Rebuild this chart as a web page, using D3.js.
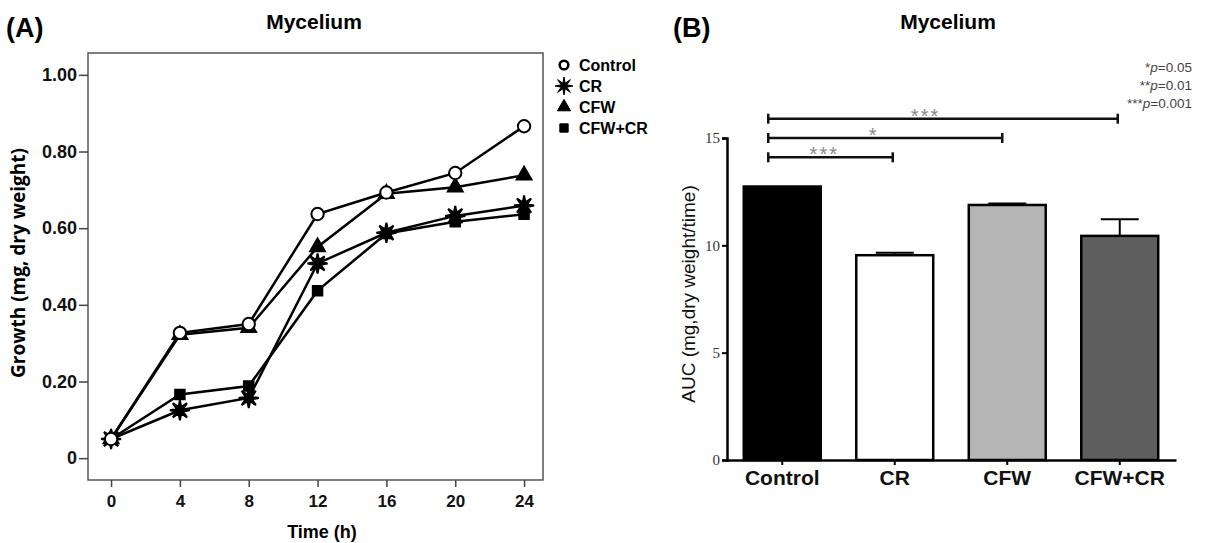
<!DOCTYPE html>
<html>
<head>
<meta charset="utf-8">
<script src="https://cdn.jsdelivr.net/npm/d3@7"></script>
<style>
  body { margin: 0; background: #fff; }
  svg { display: block; font-family: "Liberation Sans", Arial, sans-serif; }
</style>
</head>
<body>
<script>
// ---- panel A data ----
const hours = [0, 4, 8, 12, 16, 20, 24];
const series = ["Control", "CR", "CFW", "CFW+CR"];
const control = [0.05, 0.327, 0.35, 0.637, 0.693, 0.744, 0.866];
const cr = [0.05, 0.125, 0.157, 0.508, 0.588, 0.632, 0.659];
const cfw = [0.05, 0.322, 0.34, 0.551, 0.69, 0.707, 0.738];
const cfwcr = [0.05, 0.166, 0.188, 0.437, 0.586, 0.617, 0.636];
const growthTicks = [0, 0.2, 0.4, 0.6, 0.8, 1.0];

// ---- panel B data ----
const groups = ["Control", "CR", "CFW", "CFW+CR"];
const auc = [12.74, 9.54, 11.88, 10.44];
const aucErr = [0, 0.12, 0.07, 0.78];
const aucTicks = [0, 5, 10, 15];
const comparisons = [
  { to: "CFW+CR", level: 15.9, label: "***" },
  { to: "CFW", level: 15.0, label: "*" },
  { to: "CR", level: 14.1, label: "***" }
];
const pLegend = [["*", "0.05"], ["**", "0.01"], ["***", "0.001"]];

const SANS = "Liberation Sans, Arial, sans-serif";
const width = 1212, height = 543;
const svg = d3.select("body").append("svg")
  .attr("width", width).attr("height", height);

// =================== (A) ===================
const x = d3.scaleLinear().domain([-1.34, 25.1]).range([88, 543]);
const y = d3.scaleLinear().domain([-0.057, 1.057]).range([480, 53]);

svg.append("text").attr("x", 6).attr("y", 37).attr("font-family", SANS)
  .attr("font-size", 27).attr("font-weight", "bold").text("(A)");
svg.append("text").attr("x", 314).attr("y", 29).attr("text-anchor", "middle")
  .attr("font-family", SANS)
  .attr("font-size", 21).attr("font-weight", "bold").text("Mycelium");

svg.append("rect")
  .attr("x", x.range()[0]).attr("y", y.range()[1])
  .attr("width", x.range()[1] - x.range()[0])
  .attr("height", y.range()[0] - y.range()[1])
  .attr("fill", "none").attr("stroke", "#555").attr("stroke-width", 1.5);

const gy = svg.append("g").attr("transform", `translate(${x.range()[0]},0)`)
  .call(d3.axisLeft(y).tickValues(growthTicks).tickSize(9).tickPadding(2)
    .tickFormat(d => d === 0 ? "0" : d.toFixed(2)));
gy.select(".domain").remove();
gy.selectAll("line").attr("stroke", "#444").attr("stroke-width", 1.5);
gy.selectAll("text").attr("font-size", 18).attr("font-weight", "bold")
  .attr("fill", "#111").attr("font-family", SANS);

const gx = svg.append("g").attr("transform", `translate(0,${y.range()[0]})`)
  .call(d3.axisBottom(x).tickValues(hours).tickSize(7).tickPadding(8));
gx.select(".domain").remove();
gx.selectAll("line").attr("stroke", "#444").attr("stroke-width", 1.5);
gx.selectAll("text").attr("font-size", 17).attr("font-weight", "bold")
  .attr("fill", "#111").attr("font-family", SANS);

svg.append("text").attr("x", 322).attr("y", 538).attr("text-anchor", "middle")
  .attr("font-family", SANS)
  .attr("font-size", 18).attr("font-weight", "bold").text("Time (h)");
svg.append("text")
  .attr("transform", "translate(25,263) rotate(-90)")
  .attr("text-anchor", "middle")
  .attr("font-family", "Open Sans, sans-serif")
  .attr("font-size", 19).attr("font-weight", "bold").text("Growth (mg, dry weight)");

function starPath(ro, ri, n) {
  const pts = [];
  for (let i = 0; i < 2 * n; i++) {
    const r = i % 2 ? ri : ro, a = (Math.PI * i) / n - Math.PI / 2;
    pts.push([r * Math.cos(a), r * Math.sin(a)]);
  }
  return "M" + pts.map(p => p.join(",")).join("L") + "Z";
}

const shapes = {
  "Control": { path: d3.symbol(d3.symbolCircle, 120)(), fill: "#fff" },
  "CR": { path: starPath(10, 3.5, 8), fill: "#000" },
  "CFW": { path: d3.symbol(d3.symbolTriangle, 95)(), fill: "#000" },
  "CFW+CR": { path: d3.symbol(d3.symbolSquare, 90)(), fill: "#000" }
};

const seriesData = [
  { name: "CFW+CR", values: cfwcr },
  { name: "CR", values: cr },
  { name: "CFW", values: cfw },
  { name: "Control", values: control }
];

const line = d3.line().x((d, i) => x(hours[i])).y(d => y(d));
svg.append("g").selectAll("path").data(seriesData).join("path")
  .attr("d", d => line(d.values))
  .attr("fill", "none").attr("stroke", "#000").attr("stroke-width", 2.5);

const pts = svg.append("g").selectAll("g").data(seriesData).join("g");
pts.selectAll("path").data(d => d.values.map((v, i) => ({ v, i, s: shapes[d.name] })))
  .join("path")
  .attr("transform", d => `translate(${x(hours[d.i])},${y(d.v)})`)
  .attr("d", d => d.s.path)
  .attr("fill", d => d.s.fill)
  .attr("stroke", "#000").attr("stroke-width", 2);

const legend = svg.append("g").selectAll("g").data(series).join("g")
  .attr("transform", (d, i) => `translate(564,${65 + i * 21})`);
legend.append("path")
  .attr("d", d => d === "Control" ? d3.symbol(d3.symbolCircle, 60)() :
    d === "CR" ? starPath(9, 3, 8) :
    d === "CFW" ? d3.symbol(d3.symbolTriangle, 75)() : d3.symbol(d3.symbolSquare, 70)())
  .attr("fill", d => shapes[d].fill)
  .attr("stroke", "#000").attr("stroke-width", d => d === "Control" ? 2.5 : 1);
legend.append("text").attr("x", 15).attr("dy", "0.36em").attr("font-family", SANS)
  .attr("font-size", 16).attr("font-weight", "bold").text(d => d);

// =================== (B) ===================
const xb = d3.scaleBand().domain(groups).range([726, 1176])
  .paddingInner(0.316).paddingOuter(0.158);
const yb = d3.scaleLinear().domain([0, 15]).range([460, 138]);
const fills = ["#000", "#fff", "#b5b5b5", "#5e5e5e"];

svg.append("text").attr("x", 673).attr("y", 37).attr("font-family", SANS)
  .attr("font-size", 27).attr("font-weight", "bold").text("(B)");
svg.append("text").attr("x", 948).attr("y", 29).attr("text-anchor", "middle")
  .attr("font-family", SANS)
  .attr("font-size", 21).attr("font-weight", "bold").text("Mycelium");

svg.append("g").selectAll("rect").data(groups).join("rect")
  .attr("x", d => xb(d)).attr("width", xb.bandwidth())
  .attr("y", (d, i) => yb(auc[i])).attr("height", (d, i) => yb(0) - yb(auc[i]))
  .attr("fill", (d, i) => fills[i]).attr("stroke", "#000").attr("stroke-width", 2.5);

const eb = svg.append("g").attr("stroke", "#000").attr("stroke-width", 2);
groups.forEach((g, i) => {
  if (!aucErr[i]) return;
  const cx = xb(g) + xb.bandwidth() / 2;
  eb.append("line").attr("x1", cx).attr("x2", cx)
    .attr("y1", yb(auc[i])).attr("y2", yb(auc[i] + aucErr[i]));
  eb.append("line").attr("x1", cx - 19).attr("x2", cx + 19)
    .attr("y1", yb(auc[i] + aucErr[i])).attr("y2", yb(auc[i] + aucErr[i]));
});

const gyb = svg.append("g").attr("transform", `translate(${xb.range()[0] + 1},0)`)
  .call(d3.axisLeft(yb).tickValues(aucTicks).tickSize(5).tickPadding(2));
gyb.select(".domain").attr("stroke-width", 2.5);
gyb.selectAll("line").attr("stroke-width", 2);
gyb.selectAll("text").attr("font-family", "Liberation Serif, serif")
  .attr("font-size", 15).attr("fill", "#333");

const gxb = svg.append("g").attr("transform", `translate(0,${yb(0)})`)
  .call(d3.axisBottom(xb).tickSize(5).tickSizeOuter(0).tickPadding(5));
gxb.select(".domain").attr("stroke-width", 2.5);
gxb.selectAll("line").attr("stroke-width", 2);
gxb.selectAll("text").attr("font-size", 21).attr("font-weight", "bold")
  .attr("fill", "#111").attr("font-family", SANS);

svg.append("text")
  .attr("transform", "translate(695,294) rotate(-90)")
  .attr("text-anchor", "middle").attr("font-family", SANS)
  .attr("font-size", 19).attr("fill", "#111")
  .text("AUC (mg,dry weight/time)");

// significance brackets
const x0 = xb("Control") + xb.bandwidth() / 2 - 14;
const br = svg.append("g");
comparisons.forEach(c => {
  const x1 = xb(c.to) + xb.bandwidth() / 2 - (c.to === "CFW" ? 5 : 2);
  const yy = yb(c.level);
  const g = br.append("g").attr("stroke", "#111").attr("stroke-width", 2.5);
  g.append("line").attr("x1", x0).attr("x2", x1).attr("y1", yy).attr("y2", yy);
  g.append("line").attr("x1", x0).attr("x2", x0).attr("y1", yy - 5).attr("y2", yy + 5);
  g.append("line").attr("x1", x1).attr("x2", x1).attr("y1", yy - 5).attr("y2", yy + 5);
  br.append("text").attr("x", x0 + (x1 - x0) * 0.45).attr("y", yy + 4)
    .attr("text-anchor", "middle").attr("font-family", SANS)
    .attr("font-size", 20).attr("fill", "#8a8a8a").attr("letter-spacing", 2)
    .text(c.label);
});

const pl = svg.append("g").selectAll("text").data(pLegend).join("text")
  .attr("x", 1192).attr("y", (d, i) => 72 + i * 18).attr("font-family", SANS)
  .attr("text-anchor", "end").attr("font-size", 13.5).attr("fill", "#444");
pl.append("tspan").text(d => d[0]);
pl.append("tspan").attr("font-style", "italic").text("p");
pl.append("tspan").text(d => "=" + d[1]);
</script>
</body>
</html>
